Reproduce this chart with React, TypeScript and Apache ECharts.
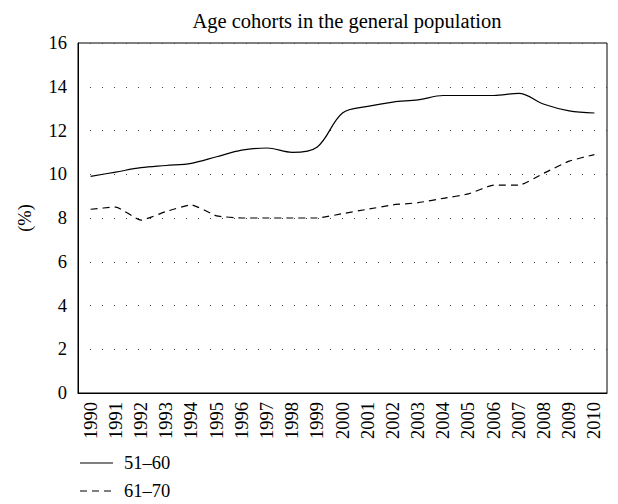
import React, { useEffect, useRef } from "react";
import * as echarts from "echarts";

const years = [
  "1990", "1991", "1992", "1993", "1994", "1995", "1996", "1997", "1998", "1999", "2000",
  "2001", "2002", "2003", "2004", "2005", "2006", "2007", "2008", "2009", "2010",
];
const cohort5160 = [9.9, 10.1, 10.3, 10.4, 10.5, 10.8, 11.1, 11.2, 11.0, 11.25, 12.8, 13.1, 13.3, 13.4, 13.6, 13.6, 13.6, 13.7, 13.2, 12.9, 12.8];
const cohort6170 = [8.4, 8.5, 7.9, 8.3, 8.6, 8.1, 8.0, 8.0, 8.0, 8.0, 8.2, 8.4, 8.6, 8.7, 8.9, 9.1, 9.5, 9.5, 10.05, 10.6, 10.9];
const seriesNames = ["51\u201360", "61\u201370"];
const FONT = "Liberation Serif";

export default function App() {
  const ref = useRef<HTMLDivElement>(null);
  useEffect(() => {
    if (!ref.current) return;
    const chart = echarts.init(ref.current, undefined, { renderer: "svg" });
    chart.setOption({
      animation: false,
      textStyle: { fontFamily: FONT, color: "#000" },
      title: {
        text: "Age cohorts in the general population",
        left: 342,
        textAlign: "center",
        top: 5,
        textStyle: { fontFamily: FONT, fontSize: 20.5, fontWeight: "normal", color: "#000" },
      },
      grid: {
        left: 78,
        right: 11,
        top: 43,
        bottom: 111,
        show: true,
        borderColor: "#000",
        borderWidth: 1,
        backgroundColor: "transparent",
      },
      graphic: [
        { type: "line", shape: { x1: 80, y1: 463, x2: 113, y2: 463 }, style: { stroke: "#000", lineWidth: 1.2 } },
        { type: "text", x: 124, y: 463, style: { text: seriesNames[0], fontFamily: FONT, fontSize: 18.5, fill: "#000", verticalAlign: "middle" } },
        { type: "line", shape: { x1: 80, y1: 491, x2: 113, y2: 491 }, style: { stroke: "#000", lineWidth: 1.2, lineDash: [7, 5] } },
        { type: "text", x: 124, y: 491, style: { text: seriesNames[1], fontFamily: FONT, fontSize: 18.5, fill: "#000", verticalAlign: "middle" } },
      ],
      xAxis: {
        type: "category",
        data: years,
        boundaryGap: true,
        axisLine: { lineStyle: { color: "#000", width: 1 } },
        axisTick: { show: false },
        axisLabel: {
          rotate: 90,
          interval: 0,
          margin: 9,
          fontFamily: FONT,
          fontSize: 18.5,
          color: "#000",
        },
        splitLine: { show: false },
      },
      yAxis: {
        type: "value",
        min: 0,
        max: 16,
        interval: 2,
        name: "(%)",
        nameLocation: "middle",
        nameGap: 44,
        nameRotate: 90,
        nameTextStyle: { fontFamily: FONT, fontSize: 18.5, color: "#000" },
        axisLine: { show: true, lineStyle: { color: "#000", width: 1 } },
        axisTick: { show: false },
        axisLabel: { margin: 11, fontFamily: FONT, fontSize: 18.5, color: "#000" },
        splitLine: { show: true, lineStyle: { color: "#444", width: 1, type: [1, 11] } },
      },
      series: [
        {
          name: seriesNames[0],
          type: "line",
          data: cohort5160,
          symbol: "none",
          smooth: 0.35,
          lineStyle: { color: "#000", width: 1.2, type: "solid" },
          itemStyle: { color: "#000" },
        },
        {
          name: seriesNames[1],
          type: "line",
          data: cohort6170,
          symbol: "none",
          smooth: 0.15,
          lineStyle: { color: "#000", width: 1.2, type: [7, 5] },
          itemStyle: { color: "#000" },
        },
      ],
    });
    return () => chart.dispose();
  }, []);
  return <div ref={ref} style={{ width: 618, height: 504, position: "absolute", left: 0, top: 0 }} />;
}
